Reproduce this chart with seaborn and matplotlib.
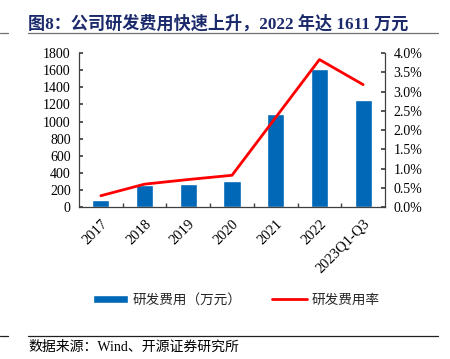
"""R&D expense chart: bars (10k CNY) with R&D ratio line on a twin axis."""

import matplotlib
matplotlib.use("Agg")
import matplotlib.pyplot as plt
import numpy as np
import pandas as pd
import seaborn as sns
from matplotlib.lines import Line2D
from matplotlib.ticker import FuncFormatter, FixedLocator

years = ["2017", "2018", "2019", "2020", "2021", "2022", "2023Q1-Q3"]
rd_expense = [80, 265, 272, 305, 1090, 1611, 1255]          # 万元
rd_ratio = [0.30, 0.60, 0.72, 0.83, 2.33, 3.83, 3.18]       # %

left_ticks = list(range(0, 1801, 200))
right_ticks = [0.0, 0.5, 1.0, 1.5, 2.0, 2.5, 3.0, 3.5, 4.0]

BLUE = "#0068B7"
RED = "#FF0000"
NAVY = "#1B2A6B"

sns.set_theme(style="ticks")
plt.rcParams["font.family"] = ["Liberation Serif", "Noto Sans CJK SC"]
plt.rcParams["axes.unicode_minus"] = False

df = pd.DataFrame({"year": years, "expense": rd_expense, "ratio": rd_ratio})
df["pos"] = np.arange(len(df))

W, H = 450, 359
fig = plt.figure(figsize=(W / 100, H / 100), dpi=100)
ax = fig.add_axes([79 / W, 1 - 207.3 / H, (385 - 79) / W, (207.3 - 53) / H])

sns.barplot(data=df, x="year", y="expense", color=BLUE, width=0.39,
            saturation=1, ax=ax, label="研发费用（万元）")
ax.set_xlim(-0.5, len(years) - 0.5)
ax.set_ylim(0, 1800)
ax.set_yticks(left_ticks)
ax.set_xlabel("")
ax.set_ylabel("")

ax2 = ax.twinx()
sns.lineplot(data=df, x="pos", y="ratio", color=RED, linewidth=2.0, ax=ax2,
             label="研发费用率", legend=False)
ax2.set_ylim(0, 4.0)
ax2.set_yticks(right_ticks)
ax2.yaxis.set_major_formatter(FuncFormatter(lambda v, _: f"{v:.1f}%"))
ax2.set_xlim(-0.5, len(years) - 0.5)
ax2.set_xlabel("")
ax2.set_ylabel("")

spine_c = "#404040"
for a in (ax, ax2):
    a.spines["top"].set_visible(False)
    for s in ("left", "right", "bottom"):
        a.spines[s].set_color(spine_c)
        a.spines[s].set_linewidth(0.9)
ax.spines["right"].set_visible(False)
ax2.spines["left"].set_visible(False)
ax2.spines["bottom"].set_visible(False)

ax.tick_params(axis="y", direction="in", length=3, color=spine_c,
               labelsize=10, pad=6)
ax2.tick_params(axis="y", direction="in", length=3, color=spine_c,
                labelsize=10, pad=6)
ax.set_xticks(np.arange(len(years)))
ax.set_xticklabels(years, rotation=45, ha="right", rotation_mode="anchor",
                   fontsize=10.5)
ax.tick_params(axis="x", which="major", length=0, pad=7)
ax.xaxis.set_minor_locator(FixedLocator(np.arange(0.5, len(years) - 0.5, 1)))
ax.tick_params(axis="x", which="minor", direction="in", length=3, color=spine_c)

for lbl in ax.get_yticklabels() + ax2.get_yticklabels() + ax.get_xticklabels():
    lbl.set_color("black")

# legend
h1, l1 = ax.get_legend_handles_labels()
h2, l2 = ax2.get_legend_handles_labels()
if ax.get_legend():
    ax.get_legend().remove()
fig.legend(h1 + h2, l1 + l2, loc="center", bbox_to_anchor=(0.525, 1 - 300 / H),
           ncol=2, frameon=False, fontsize=9.8, handlelength=2.6,
           handleheight=0.55, columnspacing=2.2, handletextpad=0.35)

# title, rules and source
fig.text(28 / W, 1 - 24 / H, "图8：公司研发费用快速上升，2022 年达 1611 万元",
         fontsize=12.3, fontweight="bold", color=NAVY, va="center", ha="left")
for y, c in ((33, "#707070"), (336, "#202020")):
    fig.add_artist(Line2D([28 / W, 438 / W], [1 - y / H] * 2, color=c, lw=0.9))
    fig.add_artist(Line2D([0, 8 / W], [1 - y / H] * 2, color=c, lw=0.9))
fig.text(28 / W, 1 - 347 / H, "数据来源：Wind、开源证券研究所", fontsize=10,
         va="center", ha="left", color="black")

fig.savefig("out.png", dpi=100)
